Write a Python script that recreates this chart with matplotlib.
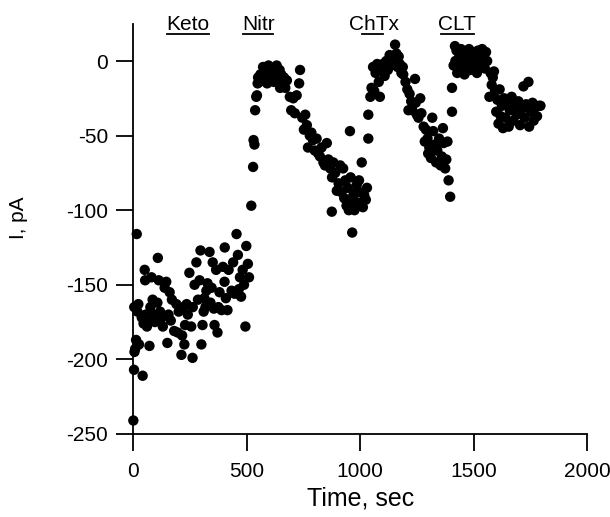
import numpy as np
import matplotlib
matplotlib.use("Agg")
import matplotlib.pyplot as plt

plt.rcParams['font.family'] = ['Liberation Sans', 'DejaVu Sans']
plt.rcParams['axes.unicode_minus'] = False

# (time in sec, current in pA), per phase
keto = [(0, -241), (3, -207), (5, -195), (8, -193), (12, -187), (15, -116), (4, -165),
        (18, -168), (22, -163), (25, -190), (41, -211), (37, -172), (45, -176), (50, -140),
        (52, -147), (55, -170), (60, -178), (62, -174), (71, -191), (75, -165), (80, -145),
        (85, -160), (90, -170), (95, -175), (106, -162), (108, -132), (112, -147), (118, -168),
        (125, -172), (130, -178), (138, -152), (145, -148), (150, -189), (155, -170), (160, -155),
        (165, -174), (170, -160), (180, -181), (190, -163), (195, -182), (200, -168), (212, -197),
        (215, -184), (220, -165), (225, -190), (228, -177), (235, -163), (240, -170), (247, -142),
        (255, -178), (261, -199), (262, -165), (270, -150), (278, -135), (285, -160), (292, -147),
        (296, -127), (300, -190), (305, -177), (310, -168), (313, -159), (318, -165), (322, -154),
        (327, -149), (336, -128), (340, -162), (345, -152), (350, -135), (355, -166), (358, -177),
        (365, -140), (371, -182), (375, -165), (380, -155), (389, -167), (395, -138), (402, -148),
        (403, -125), (408, -159), (415, -167), (420, -140), (433, -154), (440, -135), (446, -156),
        (455, -116), (461, -130), (465, -153), (470, -145), (475, -158), (482, -140), (488, -150),
        (494, -178), (498, -124), (505, -136), (510, -145)]

nitr = [(520, -97), (528, -71), (530, -53), (534, -56), (537, -33), (542, -24), (545, -23),
        (548, -15), (550, -11), (555, -14), (560, -9), (565, -13), (572, -4), (578, -10),
        (585, -6), (590, -15), (596, -3), (602, -12), (608, -8), (615, -5), (620, -14),
        (626, -10), (632, -3), (638, -12), (645, -6), (647, -18), (652, -9), (658, -15),
        (664, -11), (670, -18), (677, -13), (690, -24), (696, -33), (705, -25), (712, -35),
        (720, -23), (731, -15), (735, -6), (745, -38), (752, -46), (758, -36), (765, -43),
        (770, -58), (778, -50), (785, -48), (792, -53), (800, -60), (808, -52), (815, -62),
        (823, -64), (830, -58), (838, -68), (845, -70), (853, -55), (860, -66), (868, -72),
        (875, -101), (876, -78), (882, -68), (890, -75), (897, -87), (905, -82), (912, -70),
        (918, -88), (925, -72), (930, -92), (935, -80), (940, -97), (945, -85), (950, -100),
        (955, -47), (958, -78), (962, -95), (965, -115), (970, -90), (975, -100), (980, -88),
        (985, -83), (990, -95), (995, -80), (1000, -88), (1007, -68), (1012, -98), (1018, -90),
        (1025, -93), (1030, -85)]

chtx = [(1036, -52), (1036, -36), (1045, -24), (1050, -18), (1057, -4), (1062, -20), (1068, -8),
        (1075, -2), (1082, -14), (1087, -24), (1092, -6), (1100, -2), (1108, -10), (1115, 0),
        (1122, -6), (1130, 4), (1135, -3), (1140, 2), (1148, -1), (1154, 11), (1160, 5),
        (1165, -4), (1170, 3), (1175, -2), (1182, -8), (1188, -4), (1190, -9), (1200, -14),
        (1208, -19), (1213, -33), (1218, -22), (1225, -27), (1230, -33), (1242, -12), (1245, -28),
        (1250, -36), (1257, -38), (1265, -25), (1270, -35), (1280, -44), (1285, -54), (1290, -46),
        (1297, -52), (1300, -62), (1305, -58), (1312, -65), (1318, -38), (1322, -47), (1330, -56),
        (1335, -68), (1340, -60), (1348, -52), (1355, -70), (1360, -64), (1365, -45), (1368, -55),
        (1375, -72), (1380, -66), (1385, -54), (1390, -80), (1397, -91)]

clt = [(1405, -34), (1405, -18), (1412, -3), (1418, 10), (1420, 0), (1425, 7), (1428, -8),
       (1435, 2), (1440, -5), (1445, 8), (1450, -1), (1455, 4), (1460, -9), (1465, 6),
       (1470, -2), (1475, 1), (1480, 8), (1485, -6), (1490, 3), (1495, -1), (1500, 6),
       (1505, -4), (1510, 2), (1515, -8), (1520, 7), (1525, 0), (1530, -3), (1538, 8),
       (1545, 2), (1550, -5), (1555, 6), (1560, 0), (1570, -24), (1575, -8), (1580, -16),
       (1585, -11), (1590, -7), (1595, -20), (1600, -34), (1605, -26), (1610, -42), (1615, -19),
       (1620, -37), (1625, -30), (1630, -45), (1635, -25), (1640, -38), (1648, -28), (1655, -44),
       (1660, -33), (1668, -24), (1675, -40), (1682, -30), (1690, -36), (1698, -27), (1705, -43),
       (1712, -32), (1720, -17), (1725, -38), (1732, -29), (1742, -14), (1745, -44), (1752, -34),
       (1760, -28), (1765, -40), (1772, -31), (1780, -37), (1788, -30), (1795, -30)]

# drug labels: name, text centre, underline start/end (sec)
drug_names = ['Keto', 'Nitr', 'ChTx', 'CLT']
drug_text_x = [241, 550, 1063, 1425]
drug_bar = [(147, 335), (482, 617), (1007, 1102), (1355, 1500)]

data = np.array(keto + nitr + chtx + clt)

fig = plt.figure(figsize=(6.1, 5.17), dpi=100)
ax = fig.add_axes([0.2186, 0.1607, 0.7436, 0.7934])

ax.scatter(data[:, 0], data[:, 1], s=56, color='black', edgecolors='none', clip_on=False, zorder=3)

for name, tx, (b0, b1) in zip(drug_names, drug_text_x, drug_bar):
    ax.text(tx, 20.5, name, ha='center', va='baseline', fontsize=15, clip_on=False)
    ax.plot([b0, b1], [18.3, 18.3], color='black', lw=1.3, clip_on=False)

ax.set_xlim(0, 2000)
ax.set_ylim(-250, 25)
ax.set_xticks([0, 500, 1000, 1500, 2000])
ax.set_yticks([0, -50, -100, -150, -200, -250])
for s in ['top', 'right']:
    ax.spines[s].set_visible(False)
for s in ['left', 'bottom']:
    ax.spines[s].set_linewidth(1.3)
ax.tick_params(direction='out', length=12, width=1.3, labelsize=15)
ax.tick_params(axis='x', pad=8)
ax.tick_params(axis='y', pad=6)

ax.set_xlabel('Time, sec', fontsize=18)
ax.set_ylabel('I, pA', fontsize=15)
ax.xaxis.set_label_coords(0.5, -0.127)
ax.yaxis.set_label_coords(-0.232, 0.528)

fig.savefig('out.png', dpi=100)
